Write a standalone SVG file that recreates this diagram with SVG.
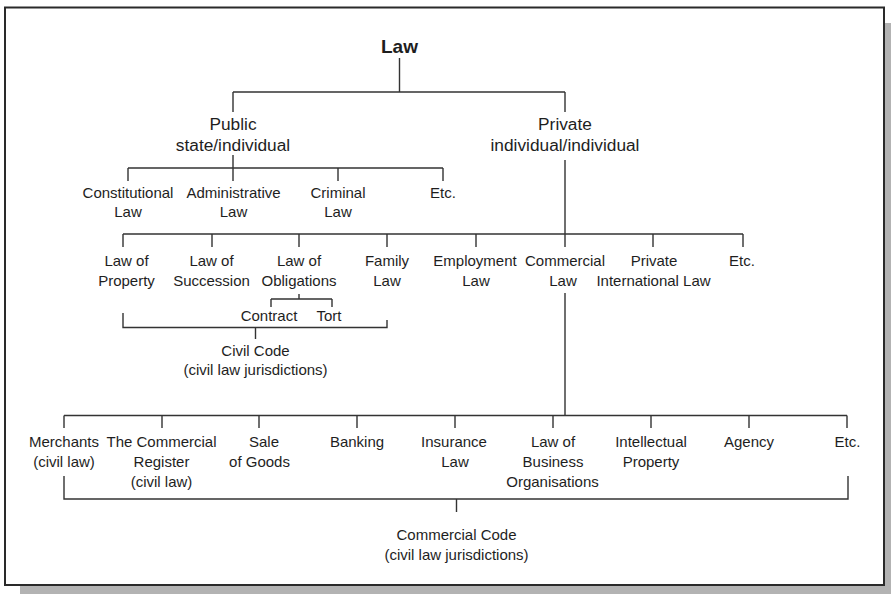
<svg xmlns="http://www.w3.org/2000/svg" width="891" height="594" viewBox="0 0 891 594">
  <style>
    .frame { fill: #ffffff; stroke: #2a2a2a; stroke-width: 2; }
    .shadow { fill: #b3b3b3; }
    .conn { fill: none; stroke: #333333; stroke-width: 1.4; }
    text { font-family: "Liberation Sans", Arial, sans-serif; fill: #1e1e1e; text-anchor: middle; }
    .root { font-size: 19px; font-weight: bold; }
    .big { font-size: 17.3px; }
    .lbl { font-size: 15px; }
  </style>

  <!-- page shadow and frame -->
  <rect class="shadow" x="20" y="23" width="880" height="580"/>
  <rect class="frame" x="5" y="7.5" width="879" height="577.5"/>

  <g id="connectors">
    <!-- Law to Public / Private -->
    <path class="conn" d="M399.5 58 V92 M233 92 H565 M233 92 V112 M565 92 V112"/>
    <!-- Public branches -->
    <path class="conn" d="M233 155 V168 M128 168 H443 M128 168 V181 M233 168 V181 M338 168 V181 M443 168 V181"/>
    <!-- Private branches -->
    <path class="conn" d="M565 160 V234 M123 234 H743 M123 234 V247 M212 234 V247 M299 234 V247 M387 234 V247 M476 234 V247 M565 234 V247 M653 234 V247 M743 234 V247"/>
    <!-- Obligations split -->
    <path class="conn" d="M299 294 V299 M271 299 H332 M271 299 V307 M332 299 V307"/>
    <!-- Civil Code bracket -->
    <path class="conn" d="M123 313 V327.5 H387 V320 M255.5 327.5 V339"/>
    <!-- Commercial Law branches -->
    <path class="conn" d="M565 293 V415.5 M64 415.5 H847 M64 415.5 V428 M162 415.5 V428 M259 415.5 V428 M357 415.5 V428 M455 415.5 V428 M553 415.5 V428 M651 415.5 V428 M749 415.5 V428 M847 415.5 V428"/>
    <!-- Commercial Code bracket -->
    <path class="conn" d="M64 476 V499 H848 V476 M456.5 499 V512"/>
  </g>

  <g id="law"><text class="root" x="399.5" y="53">Law</text></g>

  <g id="public">
    <text class="big" x="233" y="130">Public</text>
    <text class="big" x="233" y="151">state/individual</text>
  </g>
  <g id="private">
    <text class="big" x="565" y="130">Private</text>
    <text class="big" x="565" y="151">individual/individual</text>
  </g>

  <g id="constitutional"><text class="lbl" x="128" y="197.5">Constitutional</text><text class="lbl" x="128" y="217">Law</text></g>
  <g id="administrative"><text class="lbl" x="233.5" y="197.5">Administrative</text><text class="lbl" x="233.5" y="217">Law</text></g>
  <g id="criminal"><text class="lbl" x="338" y="197.5">Criminal</text><text class="lbl" x="338" y="217">Law</text></g>
  <g id="public-etc"><text class="lbl" x="443" y="197.5">Etc.</text></g>

  <g id="property"><text class="lbl" x="126.5" y="265.5">Law of</text><text class="lbl" x="126.5" y="285.5">Property</text></g>
  <g id="succession"><text class="lbl" x="211.5" y="265.5">Law of</text><text class="lbl" x="211.5" y="285.5">Succession</text></g>
  <g id="obligations"><text class="lbl" x="299" y="265.5">Law of</text><text class="lbl" x="299" y="285.5">Obligations</text></g>
  <g id="family"><text class="lbl" x="387" y="265.5">Family</text><text class="lbl" x="387" y="285.5">Law</text></g>
  <g id="employment"><text class="lbl" x="475" y="265.5">Employment</text><text class="lbl" x="476" y="285.5">Law</text></g>
  <g id="commercial"><text class="lbl" x="565" y="265.5">Commercial</text><text class="lbl" x="563" y="285.5">Law</text></g>
  <g id="private-international"><text class="lbl" x="654" y="265.5">Private</text><text class="lbl" x="653.5" y="285.5">International Law</text></g>
  <g id="private-etc"><text class="lbl" x="742" y="265.5">Etc.</text></g>

  <g id="contract"><text class="lbl" x="269" y="321">Contract</text></g>
  <g id="tort"><text class="lbl" x="329" y="321">Tort</text></g>

  <g id="civil-code">
    <text class="lbl" x="255.5" y="355.5">Civil Code</text>
    <text class="lbl" x="255.5" y="374.5">(civil law jurisdictions)</text>
  </g>

  <g id="merchants"><text class="lbl" x="64" y="447">Merchants</text><text class="lbl" x="64" y="467">(civil law)</text></g>
  <g id="register"><text class="lbl" x="161.5" y="447">The Commercial</text><text class="lbl" x="161.5" y="467">Register</text><text class="lbl" x="161.5" y="487">(civil law)</text></g>
  <g id="sale"><text class="lbl" x="264" y="447">Sale</text><text class="lbl" x="259.5" y="467">of Goods</text></g>
  <g id="banking"><text class="lbl" x="357" y="447">Banking</text></g>
  <g id="insurance"><text class="lbl" x="454" y="447">Insurance</text><text class="lbl" x="455" y="467">Law</text></g>
  <g id="business-organisations"><text class="lbl" x="553" y="447">Law of</text><text class="lbl" x="553" y="467">Business</text><text class="lbl" x="552.5" y="487">Organisations</text></g>
  <g id="intellectual"><text class="lbl" x="651" y="447">Intellectual</text><text class="lbl" x="651" y="467">Property</text></g>
  <g id="agency"><text class="lbl" x="749" y="447">Agency</text></g>
  <g id="commercial-etc"><text class="lbl" x="847.5" y="447">Etc.</text></g>

  <g id="commercial-code">
    <text class="lbl" x="456.5" y="540">Commercial Code</text>
    <text class="lbl" x="456.5" y="559.5">(civil law jurisdictions)</text>
  </g>
</svg>
